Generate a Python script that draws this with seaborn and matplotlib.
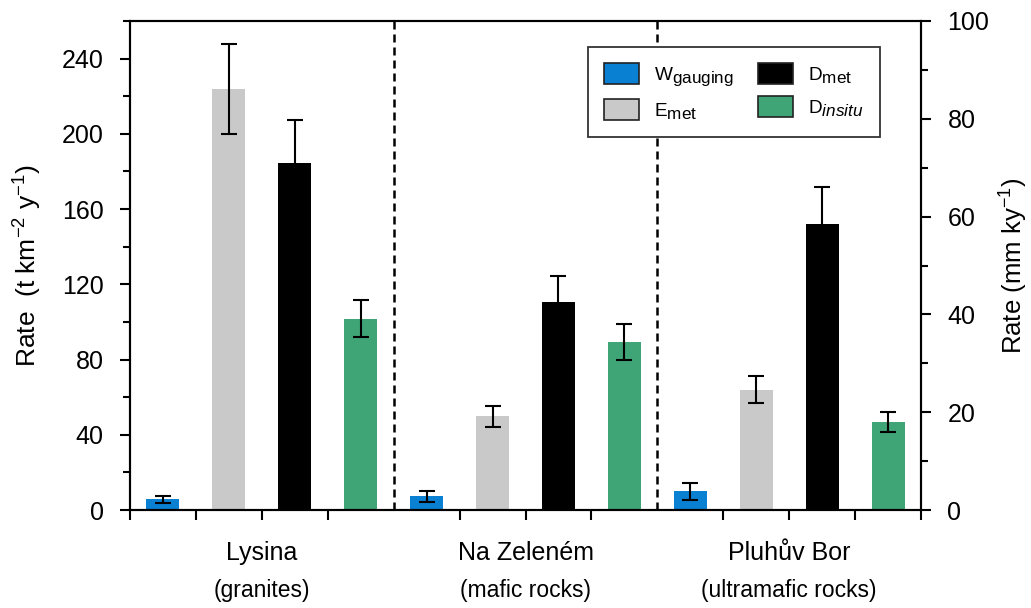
import numpy as np
import pandas as pd
import matplotlib
matplotlib.use("Agg")
import matplotlib.pyplot as plt
import matplotlib.transforms as mtransforms
from matplotlib.patches import Patch
from matplotlib.ticker import MultipleLocator
import seaborn as sns

# ---- data ----
sites = ["Lysina", "Na Zeleném", "Pluhův Bor"]
rocks = ["(granites)", "(mafic rocks)", "(ultramafic rocks)"]
series = ["W_gauging", "E_met", "D_met", "D_insitu"]
series_labels = [r"W$_{\mathrm{gauging}}$", r"E$_{\mathrm{met}}$",
                 r"D$_{\mathrm{met}}$", r"D$_{\mathit{insitu}}$"]
colors = ["#0a80d2", "#c9c9c9", "#000000", "#3fa576"]

w_gauging = [5.8, 7.2, 9.9]
w_gauging_err = [1.9, 2.9, 4.6]
e_met = [224.0, 49.8, 64.0]
e_met_err = [24.0, 5.5, 7.3]
d_met = [184.5, 110.5, 151.8]
d_met_err = [23.0, 13.7, 20.0]
d_insitu = [101.8, 89.5, 46.6]
d_insitu_err = [10.0, 9.5, 5.3]

values = [w_gauging, e_met, d_met, d_insitu]
errors = [w_gauging_err, e_met_err, d_met_err, d_insitu_err]

left_ticks = [0, 40, 80, 120, 160, 200, 240]
right_ticks = [0, 20, 40, 60, 80, 100]

rows = []
for s, vals in zip(series, values):
    for site, v in zip(sites, vals):
        rows.append({"site": site, "series": s, "value": v})
df = pd.DataFrame(rows)

# ---- style ----
sns.set_style("ticks")
plt.rcParams["font.family"] = ["Liberation Sans", "DejaVu Sans"]
plt.rcParams["mathtext.fontset"] = "custom"
plt.rcParams["mathtext.rm"] = "Liberation Sans"
plt.rcParams["mathtext.it"] = "Liberation Sans:italic"
plt.rcParams["mathtext.default"] = "regular"
for k in ["text.color", "axes.labelcolor", "xtick.color", "ytick.color", "axes.edgecolor"]:
    plt.rcParams[k] = "black"

fig = plt.figure(figsize=(10.31, 6.08), dpi=100)
ax = fig.add_axes([130 / 1031, 1 - 510 / 608, (921 - 130) / 1031, (510 - 21) / 608])

sns.barplot(data=df, x="site", y="value", hue="series", order=sites,
            hue_order=series, palette=colors, width=1.0, gap=0.5,
            saturation=1, errorbar=None, linewidth=0, legend=False, ax=ax)

# error bars at the bar positions produced by seaborn
for cont, errs in zip(ax.containers, errors):
    for bar, e in zip(cont, errs):
        xc = bar.get_x() + bar.get_width() / 2
        ax.errorbar(xc, bar.get_height(), yerr=e, fmt="none", ecolor="black",
                    elinewidth=1.5, capsize=5.5, capthick=1.5, zorder=5)

ax.set_xlim(-0.5, 2.5)
ax.set_ylim(0, 260)

# x ticks at bar boundaries (except group separators)
bounds = [i - 0.5 + k * 0.25 for i in range(3) for k in range(4)] + [2.5]
bounds = [b for b in bounds if not (abs(b - 0.5) < 1e-9 or abs(b - 1.5) < 1e-9)]
ax.set_xticks(bounds)
ax.set_xticklabels([])
ax.tick_params(axis="x", direction="out", length=7, width=1.5)

# group separators
for xsep in [0.5, 1.5]:
    ax.axvline(xsep, color="black", lw=1.8, ls=(0, (3.2, 2.0)), zorder=1)

trans = mtransforms.blended_transform_factory(ax.transData, ax.transAxes)
for i, (name, rock) in enumerate(zip(sites, rocks)):
    ax.text(i, -0.088, name, transform=trans, ha="center", va="center", fontsize=18)
    ax.text(i, -0.165, rock, transform=trans, ha="center", va="center", fontsize=16.5)

ax.set_xlabel("")
ax.set_yticks(left_ticks)
ax.yaxis.set_minor_locator(MultipleLocator(20))
ax.tick_params(axis="y", which="major", direction="out", length=7, width=1.5,
               labelsize=18, pad=12)
ax.tick_params(axis="y", which="minor", direction="out", length=5, width=1.5)
ax.set_ylabel(r"Rate  (t km$^{-2}$ y$^{-1}$)", fontsize=19)
ax.yaxis.set_label_coords(-0.109, 0.5)

for sp in ax.spines.values():
    sp.set_linewidth(1.5)
    sp.set_color("black")
    sp.set_visible(True)

ax2 = ax.twinx()
ax2.set_ylim(0, 100)
ax2.set_yticks(right_ticks)
ax2.yaxis.set_minor_locator(MultipleLocator(10))
ax2.tick_params(axis="y", which="major", direction="out", length=7, width=1.5,
                labelsize=18, pad=12)
ax2.tick_params(axis="y", which="minor", direction="out", length=5, width=1.5)
ax2.set_ylabel(r"Rate (mm ky$^{-1}$)", fontsize=18.5)
ax2.yaxis.set_label_coords(1.097, 0.5)
for sp in ax2.spines.values():
    sp.set_linewidth(1.5)
    sp.set_color("black")

handles = [Patch(facecolor=c, edgecolor="#222222", linewidth=1.2, label=l)
           for c, l in zip(colors, series_labels)]
leg = ax.legend(handles=handles, ncol=2, loc="upper right",
                bbox_to_anchor=(0.948, 0.947), borderaxespad=0, fontsize=13.7,
                frameon=True, fancybox=False, edgecolor="#333333", framealpha=1,
                handlelength=1.85, handleheight=1.3, columnspacing=1.27,
                handletextpad=0.78, borderpad=0.85, labelspacing=0.6)
leg.get_frame().set_linewidth(1.3)
leg.set_zorder(10)

# legend subscripts are nearly full size in the reference
try:
    import matplotlib._mathtext as _mt
    _orig_draw = leg.draw

    def _leg_draw(renderer, _orig=_orig_draw):
        old = _mt.SHRINK_FACTOR
        _mt.SHRINK_FACTOR = 0.9
        try:
            _orig(renderer)
        finally:
            _mt.SHRINK_FACTOR = old

    leg.draw = _leg_draw
except Exception:
    pass

fig.savefig("out.png", dpi=100)
